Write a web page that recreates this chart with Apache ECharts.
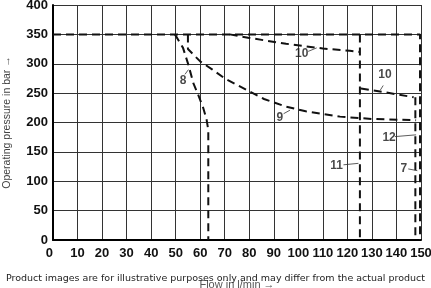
<!DOCTYPE html>
<html><head><meta charset="utf-8">
<script src="https://cdn.jsdelivr.net/npm/echarts@6/dist/echarts.min.js"></script>
<style>html,body{margin:0;padding:0;background:#fff}#c{width:431px;height:288px}</style>
</head><body><div id="c"></div>
<script>
// axis settings
const xMin = 0, xMax = 150, xStep = 10;
const yMin = 0, yMax = 400, yStep = 50;
const xName = 'Flow in l/min \u2192';
const yName = 'Operating pressure in bar \u2192';
const footer = 'Product images are for illustrative purposes only and may differ from the actual product';

// characteristic curves [flow, pressure]
const curve12 = [[0,350],[149.6,350],[149.6,0]];
const curve8 = [[49.7,350],[53,327],[55.2,298],[57.2,267],[59.2,247],[61.3,224],[62.6,205],[63.3,187],[63.3,0]];
const curve9 = [[55,350],[55,325],[60,304],[65,290],[70,275],[80,253],[86,240],[95,227],[103,219],[117,210],[130,206],[148,204]];
const curve10a = [[72,350],[80,344],[95,334],[110,326],[121,322],[125,320]];
const curve11 = [[125.1,350],[125.1,0]];
const curve10b = [[125.5,258],[136,251],[147,243]];
const curve7 = [[147.7,243],[147.7,0]];

// curve labels [flow, pressure, text] and leader lines
const labelTexts = ['8','9','10','10','12','11','7'];
const labelAt = [[53,272],[92.5,209],[101.4,317],[135.3,281],[137,175],[115.6,126],[143,121]];
const leaders = [
  [[53.8,282],[55.2,290]],
  [[94,215],[96.6,221]],
  [[104,321],[107.5,327]],
  [[133.4,255],[134.6,263]],
  [[139.4,176],[148,179]],
  [[118.4,128],[124.5,130.5]],
  [[144.8,121],[148.5,118]]
];

const dashStyle = {color:'#111', width:2, type:[8,5]};
function curve(data){
  return {type:'line', data:data, symbol:'none', silent:true, animation:false,
    lineStyle:dashStyle, z:5};
}
const series = [curve12, curve8, curve9, curve10a, curve11, curve10b, curve7].map(curve);
leaders.forEach(l => series.push({type:'line', data:l, symbol:'none', animation:false,
  lineStyle:{color:'#333', width:0.8}, z:6}));
series.push({type:'scatter', symbolSize:0, animation:false, z:7,
  data: labelAt.map((p,i)=>({value:p, name:labelTexts[i]})),
  label:{show:true, position:'inside', formatter:p=>p.name,
    fontFamily:'Liberation Sans', fontWeight:'bold', fontSize:12, color:'#1a1a1a'}});

const chart = echarts.init(document.getElementById('c'), null, {renderer:'canvas'});
chart.setOption({
  animation:false,
  backgroundColor:'#fff',
  title:{text:footer, left:'center', top:269,
    textStyle:{fontFamily:'DejaVu Sans', fontSize:9.5, fontWeight:'normal', color:'#222'}},
  grid:{left:53, right:10, top:5, bottom:48, containLabel:false, outerBoundsMode:'none'},
  xAxis:{type:'value', min:xMin, max:xMax, interval:xStep,
    name:xName, nameLocation:'middle', nameGap:39,
    nameTextStyle:{fontFamily:'Liberation Sans', fontSize:11, color:'#555'},
    axisLine:{lineStyle:{color:'#000', width:2}},
    axisTick:{show:false},
    axisLabel:{margin:7, fontFamily:'Liberation Sans', fontWeight:'bold', fontSize:13, color:'#111', alignMinLabel:'right'},
    splitLine:{show:true, lineStyle:{color:'#333', width:1}}},
  yAxis:{type:'value', min:yMin, max:yMax, interval:yStep,
    name:yName, nameLocation:'middle', nameGap:40,
    nameTextStyle:{fontFamily:'Liberation Sans', fontSize:10.5, color:'#444'},
    axisLine:{lineStyle:{color:'#000', width:2}},
    axisTick:{show:false},
    axisLabel:{margin:5, fontFamily:'Liberation Sans', fontWeight:'bold', fontSize:13, color:'#111'},
    splitLine:{show:true, lineStyle:{color:'#333', width:1}}},
  series:series
});
</script></body></html>
